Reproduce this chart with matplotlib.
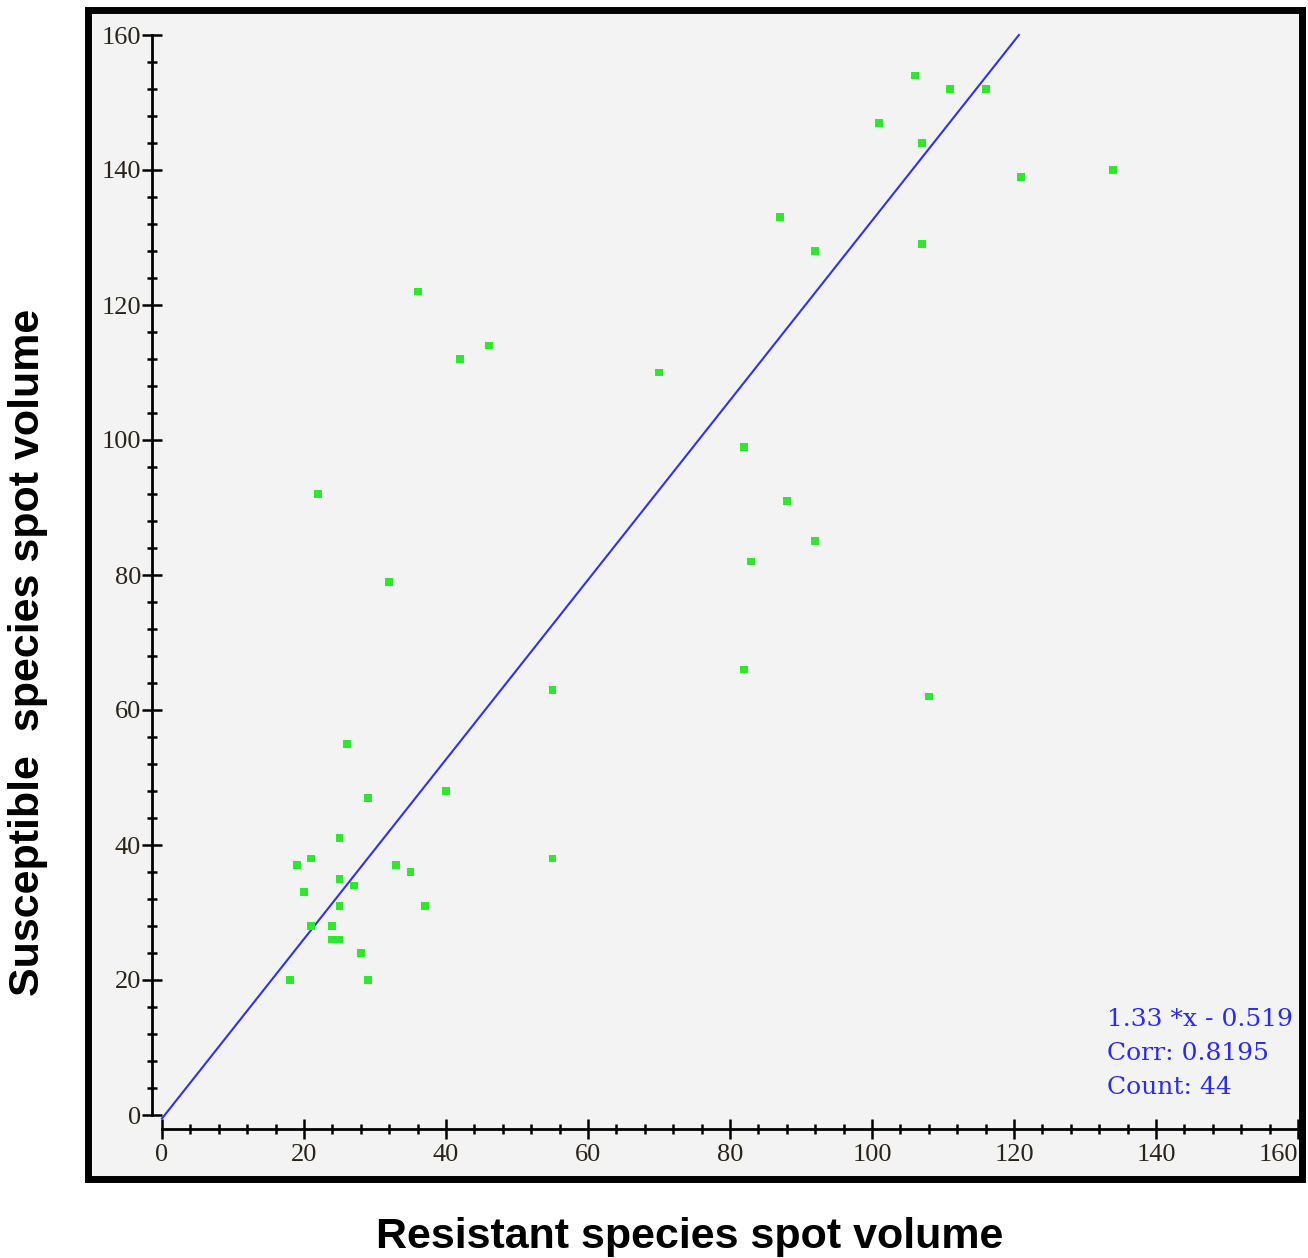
import matplotlib.pyplot as plt
from matplotlib.patches import Rectangle
from matplotlib.ticker import MultipleLocator
import numpy as np

# spot volumes
resistant = [134, 121, 116, 111, 106, 101, 107, 107, 87, 92, 70, 82, 88, 92, 83, 82,
             108, 55, 55, 36, 42, 46, 22, 32, 26, 29, 40,
             25, 21, 19, 25, 27, 20, 33, 35, 37, 25, 21, 24, 24, 25, 28, 18, 29]
susceptible = [140, 139, 152, 152, 154, 147, 144, 129, 133, 128, 110, 99, 91, 85, 82, 66,
               62, 63, 38, 122, 112, 114, 92, 79, 55, 47, 48,
               41, 38, 37, 35, 34, 33, 37, 36, 31, 31, 28, 28, 26, 26, 24, 20, 20]
slope = 1.33
intercept = -0.519
corr = 0.8195

W, H = 1308, 1258
fig = plt.figure(figsize=(W / 100, H / 100), dpi=100)

# gray panel with thick black frame
fig.patches.append(Rectangle((88 / W, 1 - 1179 / H), (1302 - 88) / W, (1179 - 10) / H,
                             transform=fig.transFigure, facecolor='#f3f3f4',
                             edgecolor='black', linewidth=5, zorder=-5))

ax = fig.add_axes([162 / W, 143 / H, (1298 - 162) / W, (1115 - 35) / H])
ax.patch.set_visible(False)
ax.set_xlim(0, 160)
ax.set_ylim(0, 160)

ax.scatter(resistant, susceptible, marker='s', s=32, color='#2ee82e', edgecolors='none', zorder=3)

x_end = (160 - intercept) / slope
xl = np.array([0, x_end])
ax.plot(xl, slope * xl + intercept, color='#3030f0', lw=1.5, zorder=2, clip_on=False)

for s in ['top', 'right']:
    ax.spines[s].set_visible(False)
ax.spines['left'].set_position(('outward', 7))
ax.spines['bottom'].set_position(('outward', 10))
ax.spines['left'].set_linewidth(2)
ax.spines['bottom'].set_linewidth(2)

ax.xaxis.set_major_locator(MultipleLocator(20))
ax.yaxis.set_major_locator(MultipleLocator(20))
ax.xaxis.set_minor_locator(MultipleLocator(4))
ax.yaxis.set_minor_locator(MultipleLocator(4))
ax.tick_params(which='major', direction='inout', length=14, width=1.8, labelsize=19,
               labelcolor='#2a2418', labelfontfamily='Liberation Serif')
ax.tick_params(which='minor', direction='inout', length=7, width=1.8)
ax.tick_params(axis='x', which='major', pad=4)
ax.tick_params(axis='y', which='major', pad=1)

blue = '#2a2af0'
ax.text(0.832, 0.088, '%.2f *x - %.3f' % (slope, -intercept), transform=ax.transAxes,
        color=blue, fontsize=18, family='DejaVu Serif', va='center')
ax.text(0.832, 0.0565, 'Corr: %.4f' % corr, transform=ax.transAxes,
        color=blue, fontsize=18, family='DejaVu Serif', va='center')
ax.text(0.832, 0.025, 'Count: %d' % len(resistant), transform=ax.transAxes,
        color=blue, fontsize=18, family='DejaVu Serif', va='center')

fig.text(690 / W, 1 - 1237 / H, 'Resistant species spot volume', ha='center', va='center',
         fontsize=31, fontweight='bold', family='Liberation Sans')
fig.text(28 / W, 1 - 652 / H, 'Susceptible  species spot volume', ha='center', va='center',
         rotation=90, fontsize=31, fontweight='bold', family='Liberation Sans')

# last x label pushed inside the frame like in the original
fig.canvas.draw()
for t in ax.xaxis.get_major_ticks():
    if abs(t.get_loc() - 160) < 1e-6:
        t.label1.set_horizontalalignment('right')
        t.label1.set_x(t.label1.get_position()[0])

fig.savefig('out.png', dpi=100)
